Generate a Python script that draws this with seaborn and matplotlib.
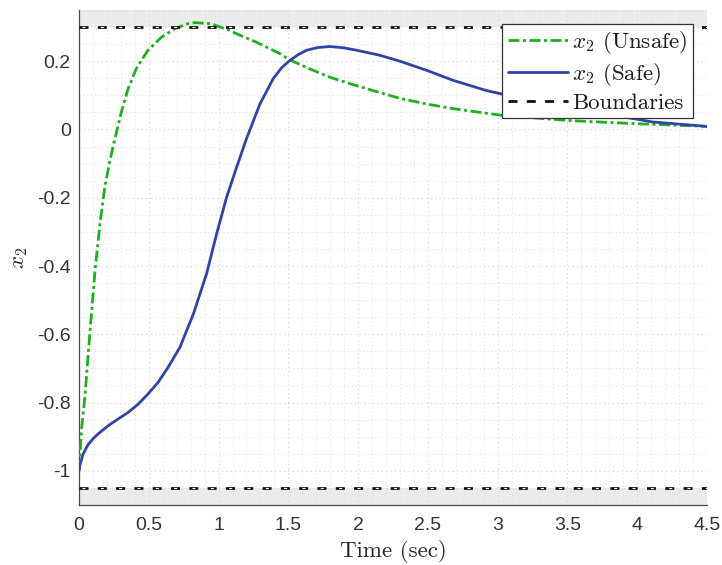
import matplotlib
matplotlib.use("Agg")
import matplotlib.pyplot as plt
import seaborn as sns
from matplotlib.ticker import MultipleLocator, FormatStrFormatter

# ---- data ----
t_unsafe = [0, 0.005, 0.019, 0.043, 0.06, 0.08, 0.115, 0.15, 0.186, 0.22, 0.244, 0.303,
            0.351, 0.41, 0.494, 0.59, 0.685, 0.78, 0.83, 0.945, 1.08, 1.153, 1.27, 1.44,
            1.51, 1.65, 1.798, 1.96, 2.107, 2.3, 2.5, 2.68, 3.04, 3.52, 3.99, 4.5]
x2_unsafe = [-1.0, -0.965, -0.875, -0.78, -0.69, -0.585, -0.413, -0.277, -0.165, -0.095, -0.05, 0.05,
             0.118, 0.178, 0.232, 0.27, 0.295, 0.31, 0.313, 0.31, 0.29, 0.276, 0.256, 0.222,
             0.204, 0.178, 0.153, 0.132, 0.114, 0.091, 0.074, 0.061, 0.041, 0.026, 0.017, 0.009]

t_safe = [0, 0.005, 0.029, 0.064, 0.1, 0.136, 0.208, 0.28, 0.351, 0.423, 0.494, 0.566,
          0.638, 0.723, 0.82, 0.914, 0.986, 1.058, 1.13, 1.2, 1.297, 1.392, 1.45, 1.51,
          1.57, 1.63, 1.71, 1.798, 1.9, 1.99, 2.15, 2.3, 2.5, 2.68, 2.92, 3.2, 3.5, 3.76,
          4.11, 4.5]
x2_safe = [-1.0, -0.985, -0.951, -0.924, -0.906, -0.892, -0.868, -0.848, -0.829, -0.805, -0.775,
           -0.741, -0.697, -0.638, -0.54, -0.423, -0.306, -0.198, -0.11, -0.027, 0.075, 0.149,
           0.18, 0.202, 0.219, 0.232, 0.24, 0.243, 0.239, 0.232, 0.218, 0.2, 0.172, 0.144,
           0.114, 0.088, 0.066, 0.047, 0.022, 0.009]

upper_bound = 0.3
lower_bound = -1.05
x_ticks = [0, 0.5, 1, 1.5, 2, 2.5, 3, 3.5, 4, 4.5]
y_ticks = [-1, -0.8, -0.6, -0.4, -0.2, 0, 0.2]

# ---- style ----
sns.set_style("white")
plt.rcParams["font.family"] = ["Liberation Sans", "DejaVu Sans"]
plt.rcParams["mathtext.fontset"] = "cm"
plt.rcParams["axes.unicode_minus"] = False

fig = plt.figure(figsize=(7.22, 5.65), dpi=100, facecolor="white")
ax = fig.add_axes([79/722, 1 - 505/565, (707-79)/722, (505-10)/565])

# shaded unsafe regions
ax.axhspan(upper_bound, 0.35, color="#ebebeb", zorder=0.1, lw=0)
ax.axhspan(-1.1, lower_bound, color="#ebebeb", zorder=0.1, lw=0)

green = "#1fae1f"
blue = "#2f44a6"

sns.lineplot(x=t_unsafe, y=x2_unsafe, ax=ax, color=green, lw=2.0,
             linestyle=(0, (3.96, 1.26, 1.08, 1.26)), label=r"$x_2$ (Unsafe)", zorder=3)
sns.lineplot(x=t_safe, y=x2_safe, ax=ax, color=blue, lw=2.0, linestyle="-",
             label=r"$x_2$ (Safe)", zorder=3)

for i, b in enumerate([upper_bound, lower_bound]):
    ax.axhline(b, color="#111111", lw=2.0, linestyle=(0, (3.24, 3.35)),
               label="Boundaries" if i == 0 else "_nolegend_", zorder=4)
    ax.axhline(b, color="white", lw=0.8, linestyle=(13.8, (2.7, 13.8)),
               label="_nolegend_", zorder=4.5)

ax.set_xlim(0, 4.5)
ax.set_ylim(-1.1, 0.35)
ax.set_xticks(x_ticks)
ax.set_yticks(y_ticks)
ax.xaxis.set_major_formatter(FormatStrFormatter("%g"))
ax.yaxis.set_major_formatter(FormatStrFormatter("%g"))
ax.xaxis.set_minor_locator(MultipleLocator(0.1))
ax.yaxis.set_minor_locator(MultipleLocator(0.05))

ax.set_axisbelow(True)
ax.grid(which="major", color="#d0d0d0", linestyle=(0, (1, 3)), lw=0.8)
ax.grid(which="minor", color="#dcdcdc", linestyle=(0, (1, 3)), lw=0.7)

for side in ["top", "right"]:
    ax.spines[side].set_visible(False)
for side in ["left", "bottom"]:
    ax.spines[side].set_color("#4a4a4a")
    ax.spines[side].set_linewidth(0.9)

ax.tick_params(which="major", direction="in", length=4.3, width=0.8, color="#4a4a4a",
               labelsize=14, labelcolor="#333333")
ax.tick_params(axis="x", which="major", pad=9)
ax.tick_params(axis="y", which="major", pad=6)
ax.tick_params(which="minor", length=0)

ax.set_xlabel("Time (sec)", fontfamily="cmr10", fontsize=16.5, color="#262626", labelpad=4)
ax.set_ylabel(r"$x_2$", fontfamily="cmr10", fontsize=16.5, color="#262626", labelpad=5)

leg = ax.legend(loc="upper right", prop={"family": "cmr10", "size": 16.5},
                frameon=True, fancybox=False, edgecolor="#333333", framealpha=1,
                borderaxespad=0.6, borderpad=0.25, handlelength=2.6, handletextpad=0.2,
                labelspacing=0.2)
leg.get_frame().set_linewidth(0.9)
for txt in leg.get_texts():
    txt.set_color("#1a1a1a")

fig.savefig("out.png", dpi=100, facecolor="white")
